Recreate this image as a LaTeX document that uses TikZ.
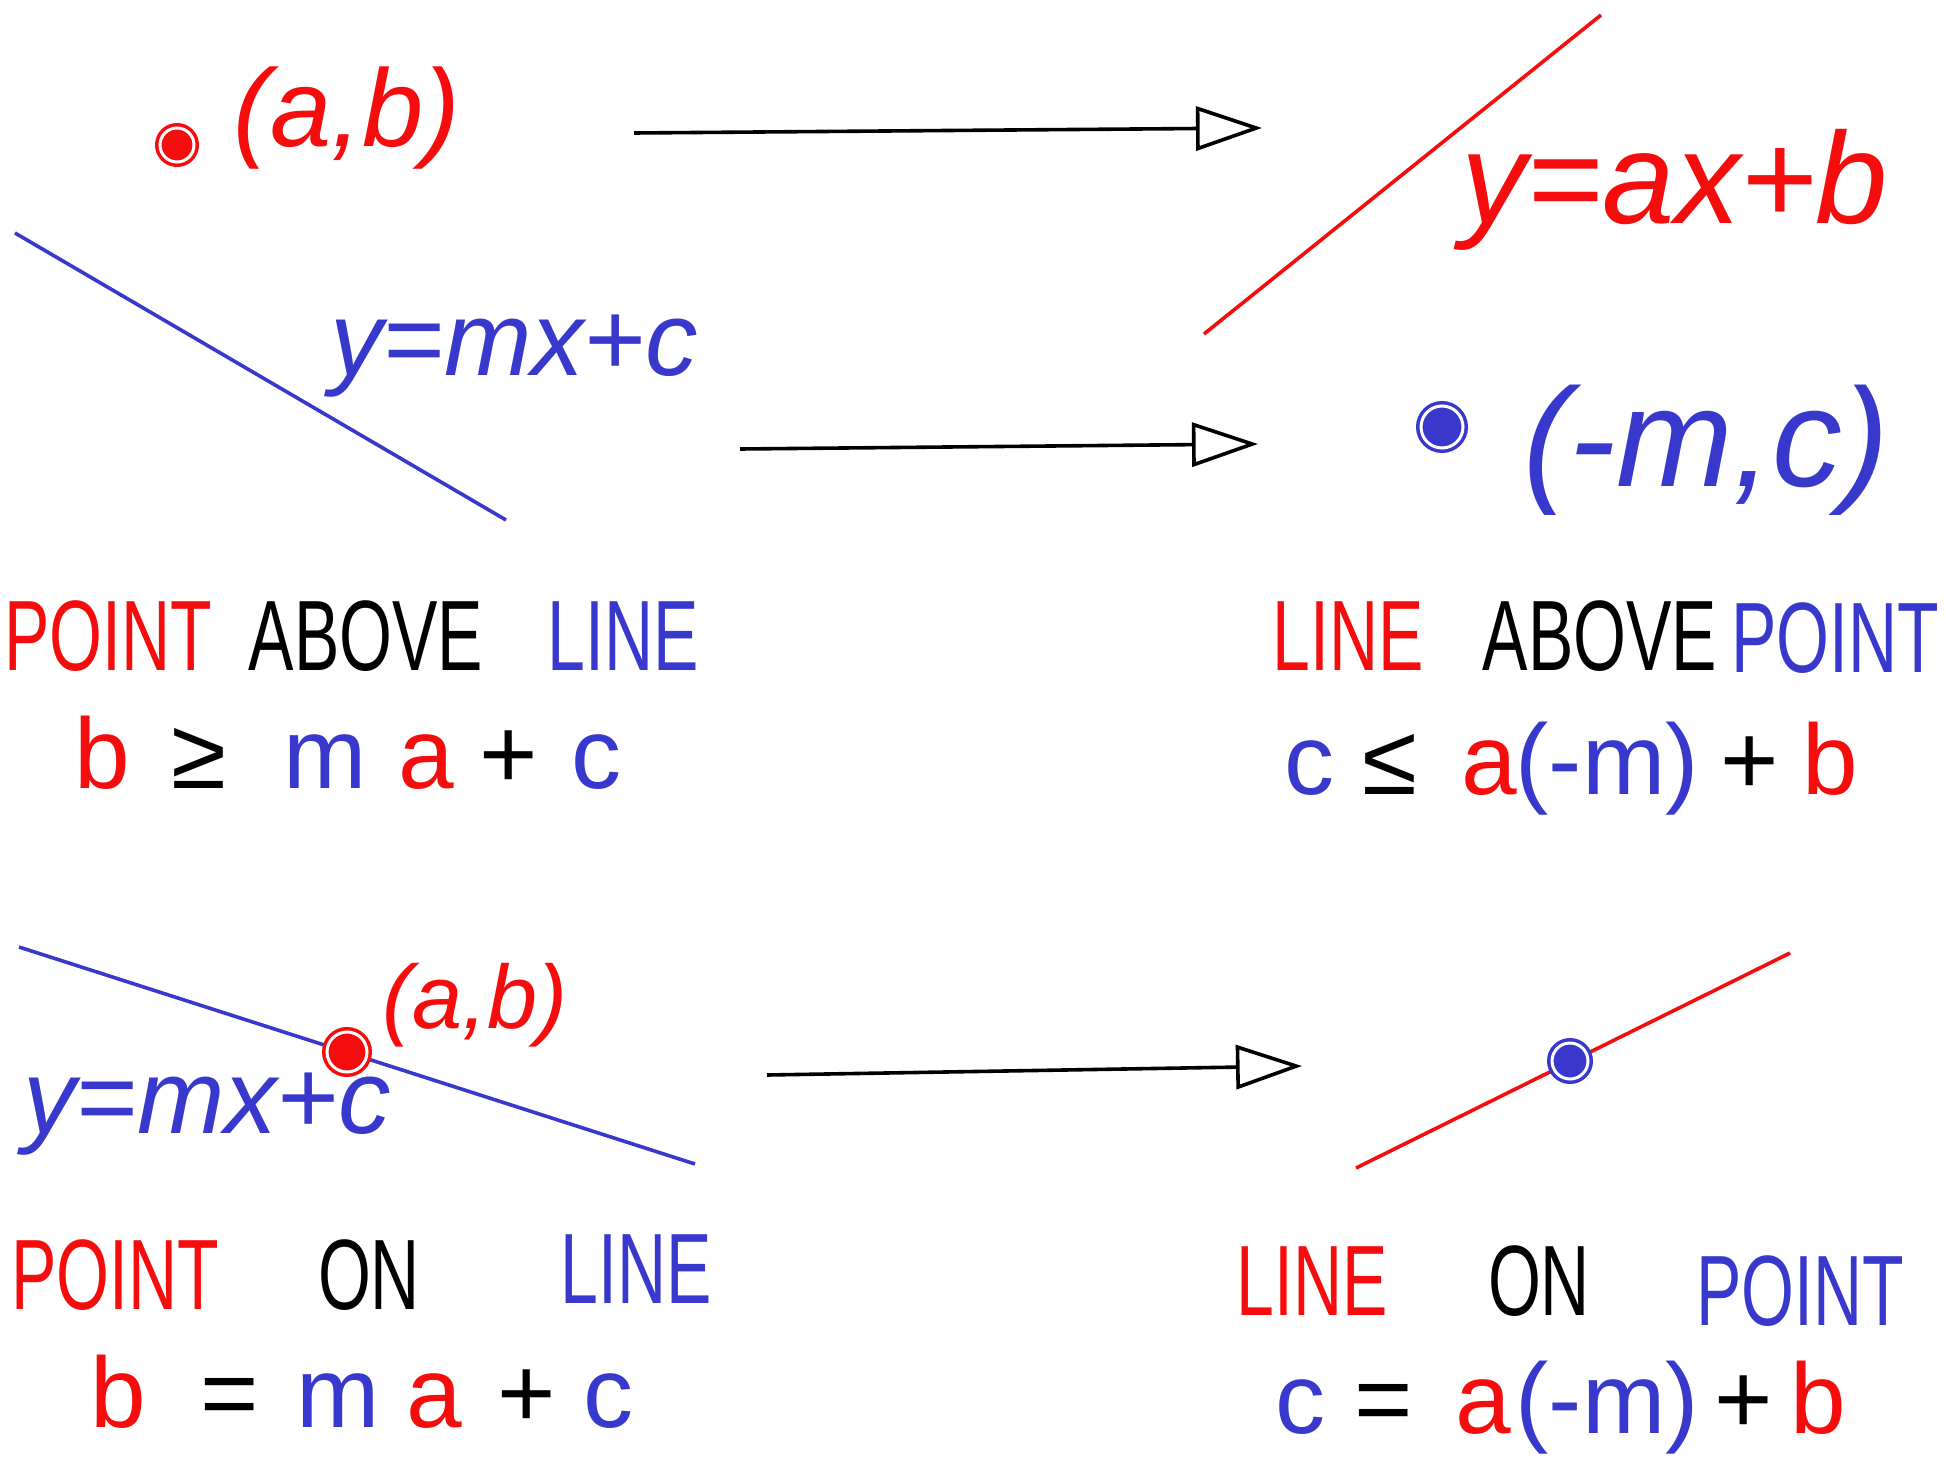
\documentclass[tikz,border=0pt]{standalone}
\usepackage{fontspec}
\setmainfont{Liberation Sans}
\newfontfamily\hand[FakeStretch=0.68]{Liberation Sans}
\usetikzlibrary{arrows.meta,positioning}
\definecolor{inkred}{rgb}{0.96,0.05,0.05}
\definecolor{inkblue}{rgb}{0.22,0.22,0.80}

\begin{document}
\begin{tikzpicture}[
  x=1pt, y=-1pt,
  word/.style={anchor=base, inner sep=0pt, font=\hand\fontsize{100}{110}\selectfont},
  sym/.style={anchor=base, inner sep=0pt, font=\fontsize{100}{110}\selectfont},
  lbl/.style={inner sep=0pt, font=\itshape\fontsize{#1}{#1}\selectfont},
  graphline/.style={line width=3.6pt},
  dot/.style={circle, draw=#1, line width=3.5pt, double=white, double distance=3pt,
              fill=#1, inner sep=0pt},
  arr/.style={line width=3.6pt, -{Triangle[open, length=66pt, width=44pt, line width=3.6pt]}}
]
\useasboundingbox (0,0) rectangle (1946,1466);

% point above line
\node[dot=inkred, minimum size=34pt] (ptA) at (177,145) {};
\node[lbl=110, inkred] (ptA-lbl) at (347,118) {(a,b)};
\coordinate (lnA-s) at (15,233);
\coordinate (lnA-e) at (506,520);
\draw[graphline, inkblue] (lnA-s) -- (lnA-e);
\node[lbl=105, inkblue] (lnA-lbl) at (514,356) {y=mx+c};

% dual: line above point
\coordinate (lnB-s) at (1204,334);
\coordinate (lnB-e) at (1601,15);
\draw[graphline, inkred] (lnB-s) -- (lnB-e);
\node[lbl=130, inkred] (lnB-lbl) at (1675,190) {y=ax+b};
\node[dot=inkblue, minimum size=42pt] (ptB) at (1442,427) {};
\node[lbl=140, inkblue] (ptB-lbl) at (1706,450) {(-m,c)};

\coordinate (arr1-s) at (634,133);
\coordinate (arr1-e) at (1262,128);
\draw[arr] (arr1-s) -- (arr1-e);
\coordinate (arr2-s) at (740,449);
\coordinate (arr2-e) at (1258,444);
\draw[arr] (arr2-s) -- (arr2-e);

\node[word, inkred] (pa-point) at (108,670) {POINT};
\node[word] (pa-above) at (366,670) {ABOVE};
\node[word, inkblue] (pa-line) at (623,670) {LINE};

\node[word, inkred] (lp-line) at (1348,670) {LINE};
\node[word] (lp-above) at (1600,670) {ABOVE};
\node[word, inkblue] (lp-point) at (1835,672) {POINT};

\node[sym, inkred] (pa-b) at (102,788) {b};
\node[sym] (pa-geq) at (199,788) {≥};
\node[sym, inkblue] (pa-m) at (325,788) {m};
\node[sym, inkred] (pa-a) at (426,788) {a};
\node[sym] (pa-plus) at (509,788) {+};
\node[sym, inkblue] (pa-c) at (596,788) {c};

\node[sym, inkblue] (lp-c) at (1309,794) {c};
\node[sym] (lp-leq) at (1390,794) {≤};
\node[sym, inkred] (lp-a) at (1489,794) {a};
\node[sym, inkblue] (lp-m) at (1607,794) {(-m)};
\node[sym] (lp-plus) at (1750,794) {+};
\node[sym, inkred] (lp-b) at (1830,794) {b};

% point on line
\coordinate (lnC-s) at (19,947);
\coordinate (lnC-e) at (695,1164);
\draw[graphline, inkblue] (lnC-s) -- (lnC-e);
\node[dot=inkred, minimum size=40pt] (ptC) at (347,1052) {};
\node[lbl=90, inkred] (ptC-lbl) at (475,1005) {(a,b)};
\node[lbl=105, inkblue] (lnC-lbl) at (207,1114) {y=mx+c};

\coordinate (arr3-s) at (767,1075);
\coordinate (arr3-e) at (1302,1066);
\draw[arr] (arr3-s) -- (arr3-e);

\coordinate (lnD-s) at (1356,1168);
\coordinate (lnD-e) at (1790,953);
\draw[graphline, inkred] (lnD-s) -- (lnD-e);
\node[dot=inkblue, minimum size=36pt] (ptD) at (1570,1061) {};

\node[word, inkred] (po-point) at (115,1309) {POINT};
\node[word] (po-on) at (369,1309) {ON};
\node[word, inkblue] (po-line) at (636,1303) {LINE};

\node[word, inkred] (lo-line) at (1312,1315) {LINE};
\node[word] (lo-on) at (1539,1315) {ON};
\node[word, inkblue] (lo-point) at (1800,1325) {POINT};

\node[sym, inkred] (po-b) at (118,1427) {b};
\node[sym] (po-eq) at (230,1427) {=};
\node[sym, inkblue] (po-m) at (338,1427) {m};
\node[sym, inkred] (po-a) at (434,1427) {a};
\node[sym] (po-plus) at (527,1427) {+};
\node[sym, inkblue] (po-c) at (608,1427) {c};

\node[sym, inkblue] (lo-c) at (1300,1433) {c};
\node[sym] (lo-eq) at (1384,1433) {=};
\node[sym, inkred] (lo-a) at (1483,1433) {a};
\node[sym, inkblue] (lo-m) at (1607,1433) {(-m)};
\node[sym] (lo-plus) at (1744,1433) {+};
\node[sym, inkred] (lo-b) at (1818,1433) {b};

\end{tikzpicture}
\end{document}
